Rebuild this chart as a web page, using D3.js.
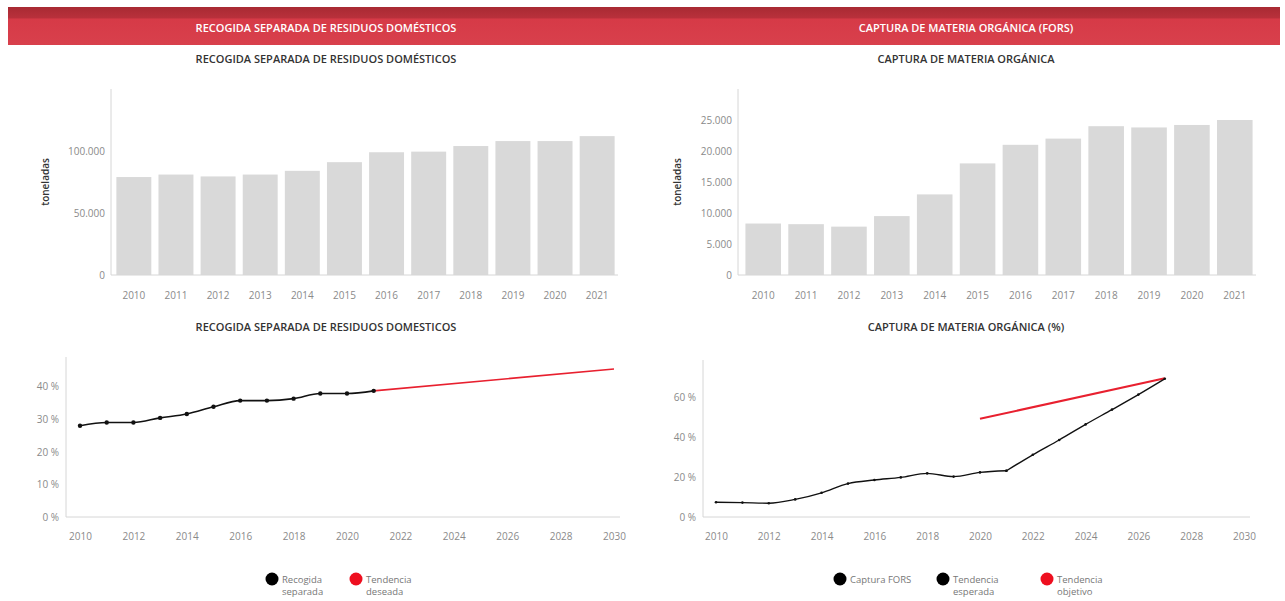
<!DOCTYPE html>
<html><head><meta charset="utf-8">
<script src="https://cdn.jsdelivr.net/npm/d3@7"></script>
<style>
body{margin:0;background:#fff;font-family:"Open Sans",sans-serif;}
</style></head>
<body><svg id="c" width="1285" height="601"></svg>
<script>
// ---- data ----
const years = [2010,2011,2012,2013,2014,2015,2016,2017,2018,2019,2020,2021];
const residuosTon = [79000,81000,79500,81000,84000,91000,99000,99500,104000,108000,108000,112000];
const forsTon = [8300,8200,7800,9500,13000,18000,21000,22000,24000,23800,24200,25000];
const recogidaYears = [2010,2011,2012,2013,2014,2015,2016,2017,2018,2019,2020,2021];
const recogidaPct = [28.0,29.0,29.0,30.4,31.6,33.8,35.7,35.7,36.3,37.9,37.9,38.7];
const deseadaYears = [2021,2030];
const deseadaPct = [38.7,45.4];
const capturaYears = [2010,2011,2012,2013,2014,2015,2016,2017,2018,2019,2020,2021];
const capturaPct = [7.4,7.2,6.9,8.8,12.1,16.7,18.5,19.8,21.8,20.2,22.3,23.1];
const esperadaYears = [2021,2022,2023,2024,2025,2026,2027];
const esperadaPct = [23.1,31.1,38.5,46.3,53.7,61.2,69.1];
const objetivoYears = [2020,2027];
const objetivoPct = [49.1,69.4];
const tonTicksA = [0,50000,100000];
const tonTicksB = [0,5000,10000,15000,20000,25000];
const pctTicksA = [0,10,20,30,40];
const pctTicksB = [0,20,40,60];
const yearTicks = [2010,2012,2014,2016,2018,2020,2022,2024,2026,2028,2030];

const svg = d3.select("#c");
const loc = d3.formatLocale({decimal:",",thousands:".",grouping:[3],currency:["","€"]});
const fmt = loc.format(",d");
const pctFmt = v => v + " %";
const TICK = "#8a8a8a", AXIS = "#d6d6d6", TITLE = "#333";

// header
const defs = svg.append("defs");
const g1 = defs.append("linearGradient").attr("id","hdr").attr("x1",0).attr("x2",0).attr("y1",0).attr("y2",1);
g1.append("stop").attr("offset","0%").attr("stop-color","#a82a33");
g1.append("stop").attr("offset","28%").attr("stop-color","#b8303b");
g1.append("stop").attr("offset","32%").attr("stop-color","#d63a47");
g1.append("stop").attr("offset","100%").attr("stop-color","#d8404c");
svg.append("rect").attr("x",8).attr("y",7).attr("width",1272).attr("height",38).attr("fill","url(#hdr)");
svg.append("text").attr("x",326).attr("y",32).attr("text-anchor","middle").attr("fill","#fff")
  .attr("font-size",11).attr("font-weight",600).text("RECOGIDA SEPARADA DE RESIDUOS DOMÉSTICOS");
svg.append("text").attr("x",966).attr("y",32).attr("text-anchor","middle").attr("fill","#fff")
  .attr("font-size",11).attr("font-weight",600).text("CAPTURA DE MATERIA ORGÁNICA (FORS)");

function title(x,y,t){
  svg.append("text").attr("x",x).attr("y",y).attr("text-anchor","middle").attr("fill",TITLE)
    .attr("font-size",11).attr("font-weight",600).text(t);
}
title(326,63,"RECOGIDA SEPARADA DE RESIDUOS DOMÉSTICOS");
title(966,63,"CAPTURA DE MATERIA ORGÁNICA");
title(326,331,"RECOGIDA SEPARADA DE RESIDUOS DOMESTICOS");
title(966,331,"CAPTURA DE MATERIA ORGÁNICA (%)");

function styleAxis(g){
  g.selectAll("path").remove();
  g.selectAll("line").remove();
  g.selectAll("text").attr("fill",TICK).attr("font-size",10).attr("font-family","Open Sans, sans-serif");
}

function barChart(x0,x1,axisX,yTop,yBase,maxV,vals,ticks,ylabX){
  const x = d3.scaleBand().domain(years).range([x0,x1]).paddingInner(0.17).paddingOuter(0.08);
  const y = d3.scaleLinear().domain([0,maxV]).range([yBase,yTop]);
  const g = svg.append("g");
  g.selectAll("rect").data(years).join("rect")
    .attr("x",d=>x(d)).attr("width",x.bandwidth())
    .attr("y",(d,i)=>y(vals[i])).attr("height",(d,i)=>yBase-y(vals[i]))
    .attr("fill","#d9d9d9");
  g.append("line").attr("x1",axisX).attr("x2",axisX).attr("y1",yTop).attr("y2",yBase).attr("stroke",AXIS);
  g.append("line").attr("x1",axisX).attr("x2",x1).attr("y1",yBase).attr("y2",yBase).attr("stroke",AXIS);
  svg.append("g").attr("transform",`translate(${axisX-3},0)`)
    .call(d3.axisLeft(y).tickValues(ticks).tickFormat(fmt).tickSize(0).tickPadding(3)).call(styleAxis);
  svg.append("g").attr("transform",`translate(0,${yBase+14})`)
    .call(d3.axisBottom(x).tickSize(0).tickPadding(3)).call(styleAxis);
  svg.append("text").attr("transform",`translate(${ylabX},${(yTop+yBase)/2}) rotate(-90)`)
    .attr("text-anchor","middle").attr("fill",TITLE).attr("font-size",10).attr("font-weight",600).text("toneladas");
}
barChart(113,618,111,89,275,150000,residuosTon,tonTicksA,49);
barChart(742,1256,738,89,275,30000,forsTon,tonTicksB,681);

function lineChart(x0,x1,axisX,yTop,yBase,maxV,ticks,series){
  const x = d3.scaleLinear().domain([2010,2030]).range([x0,x1]);
  const y = d3.scaleLinear().domain([0,maxV]).range([yBase,yTop]);
  svg.append("line").attr("x1",axisX).attr("x2",axisX).attr("y1",y(maxV)+3).attr("y2",yBase).attr("stroke",AXIS);
  svg.append("line").attr("x1",axisX).attr("x2",x1+6).attr("y1",yBase).attr("y2",yBase).attr("stroke",AXIS);
  svg.append("g").attr("transform",`translate(${axisX-4},0)`)
    .call(d3.axisLeft(y).tickValues(ticks).tickFormat(pctFmt).tickSize(0).tickPadding(3)).call(styleAxis);
  svg.append("g").attr("transform",`translate(0,${yBase+13})`)
    .call(d3.axisBottom(x).tickValues(yearTicks).tickFormat(d3.format("d")).tickSize(0).tickPadding(3)).call(styleAxis);
  const line = d3.line().x(d=>x(d[0])).y(d=>y(d[1])).curve(d3.curveMonotoneX);
  series.forEach(s=>{
    const pts = s.xs.map((v,i)=>[v,s.ys[i]]);
    svg.append("path").datum(pts).attr("d",line).attr("fill","none")
      .attr("stroke",s.color).attr("stroke-width",s.w);
    if(s.dots){
      svg.append("g").selectAll("circle").data(pts).join("circle")
        .attr("cx",d=>x(d[0])).attr("cy",d=>y(d[1])).attr("r",s.dots).attr("fill",s.color);
    }
  });
}
lineChart(80,614,66,354,517,50,pctTicksA,[
  {xs:deseadaYears,ys:deseadaPct,color:"#e8202f",w:1.6,dots:0},
  {xs:recogidaYears,ys:recogidaPct,color:"#111",w:1.6,dots:2.2}
]);
lineChart(716,1244,703,357,517,80,pctTicksB,[
  {xs:objetivoYears,ys:objetivoPct,color:"#e8202f",w:2,dots:0},
  {xs:capturaYears,ys:capturaPct,color:"#111",w:1.4,dots:1.3},
  {xs:esperadaYears,ys:esperadaPct,color:"#111",w:1.4,dots:1.3}
]);

function legend(items){
  items.forEach(it=>{
    svg.append("circle").attr("cx",it.x).attr("cy",579).attr("r",6.5).attr("fill",it.color);
    const t = svg.append("text").attr("x",it.x+10).attr("y",583).attr("fill","#777").attr("font-size",9.5);
    it.lines.forEach((l,i)=>t.append("tspan").attr("x",it.x+10).attr("dy",i?12:0).text(l));
  });
}
legend([
  {x:272,color:"#000",lines:["Recogida","separada"]},
  {x:356,color:"#ee0f1f",lines:["Tendencia","deseada"]},
  {x:840,color:"#000",lines:["Captura FORS"]},
  {x:943,color:"#000",lines:["Tendencia","esperada"]},
  {x:1047,color:"#ee0f1f",lines:["Tendencia","objetivo"]}
]);
</script></body></html>
